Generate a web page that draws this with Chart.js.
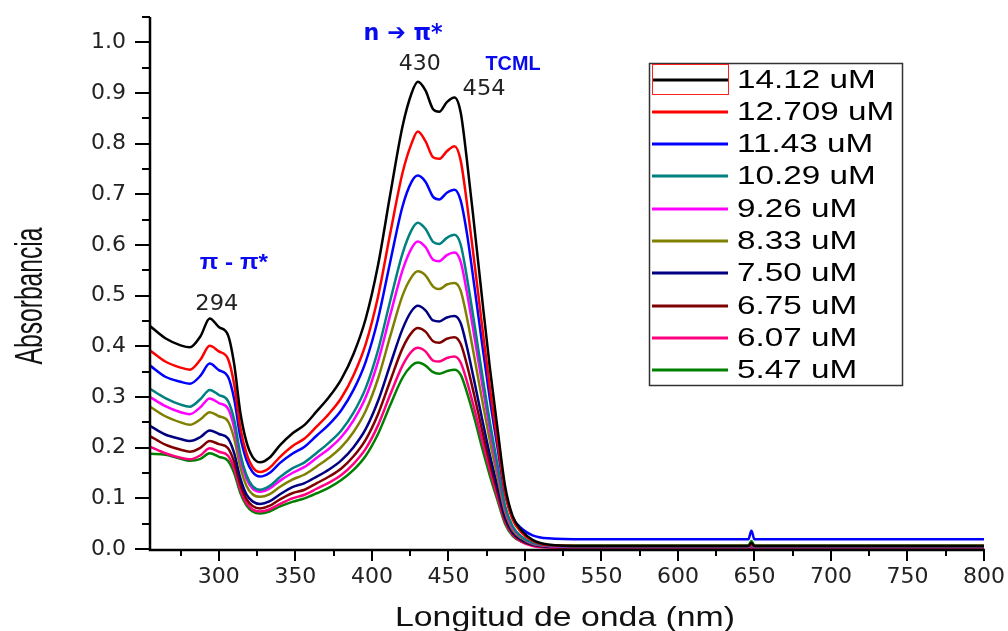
<!DOCTYPE html>
<html>
<head>
<meta charset="utf-8">
<script src="https://cdn.jsdelivr.net/npm/chart.js@4.4.1/dist/chart.umd.min.js"></script>
<style>
  html, body { margin: 0; padding: 0; background: #fff; }
  canvas { display: block; }
</style>
</head>
<body>
<canvas id="chart" width="1008" height="631"></canvas>
<script>
// Absorbance spectra (TCML)
const wavelengths = [255, 265, 275, 281, 288, 294, 300, 306, 310, 314, 318, 322, 327, 333, 340, 348, 356, 364, 372, 380, 388, 396, 404, 412, 420, 426, 430, 435, 440, 444, 449, 454, 458, 462, 467, 472, 477, 482, 487, 492, 498, 505, 515, 540, 646, 648, 650, 700, 800];

const abs1412 = [0.440, 0.416, 0.402, 0.398, 0.420, 0.455, 0.438, 0.422, 0.365, 0.270, 0.212, 0.182, 0.171, 0.180, 0.205, 0.228, 0.245, 0.272, 0.300, 0.335, 0.385, 0.455, 0.560, 0.700, 0.834, 0.900, 0.922, 0.905, 0.868, 0.863, 0.882, 0.891, 0.862, 0.770, 0.635, 0.495, 0.360, 0.240, 0.125, 0.065, 0.036, 0.018, 0.009, 0.006, 0.006, 0.012, 0.006, 0.006, 0.006];
const abs12709 = [0.392, 0.370, 0.358, 0.354, 0.374, 0.401, 0.390, 0.375, 0.325, 0.240, 0.189, 0.162, 0.152, 0.160, 0.182, 0.203, 0.218, 0.242, 0.267, 0.298, 0.343, 0.405, 0.498, 0.623, 0.742, 0.801, 0.824, 0.805, 0.773, 0.770, 0.785, 0.795, 0.767, 0.685, 0.565, 0.441, 0.320, 0.214, 0.111, 0.058, 0.032, 0.016, 0.008, 0.006, 0.006, 0.008, 0.006, 0.006, 0.006];
const abs1143 = [0.362, 0.340, 0.330, 0.326, 0.342, 0.366, 0.353, 0.340, 0.296, 0.222, 0.176, 0.152, 0.143, 0.150, 0.170, 0.188, 0.202, 0.224, 0.246, 0.274, 0.314, 0.370, 0.454, 0.567, 0.676, 0.725, 0.737, 0.725, 0.695, 0.690, 0.703, 0.709, 0.688, 0.625, 0.518, 0.406, 0.298, 0.202, 0.110, 0.062, 0.040, 0.027, 0.021, 0.019, 0.019, 0.036, 0.019, 0.019, 0.019];
const abs1029 = [0.316, 0.298, 0.285, 0.281, 0.296, 0.314, 0.304, 0.292, 0.255, 0.188, 0.146, 0.124, 0.117, 0.124, 0.142, 0.159, 0.171, 0.190, 0.210, 0.234, 0.269, 0.318, 0.392, 0.490, 0.583, 0.630, 0.644, 0.632, 0.606, 0.602, 0.614, 0.620, 0.601, 0.538, 0.444, 0.346, 0.252, 0.168, 0.086, 0.045, 0.024, 0.012, 0.007, 0.005, 0.005, 0.008, 0.005, 0.005, 0.005];
const abs926 = [0.300, 0.282, 0.270, 0.266, 0.280, 0.297, 0.288, 0.277, 0.240, 0.178, 0.139, 0.119, 0.113, 0.119, 0.135, 0.150, 0.162, 0.180, 0.198, 0.221, 0.254, 0.300, 0.370, 0.462, 0.550, 0.594, 0.607, 0.596, 0.571, 0.568, 0.580, 0.585, 0.567, 0.508, 0.419, 0.327, 0.238, 0.158, 0.081, 0.042, 0.023, 0.011, 0.006, 0.004, 0.004, 0.006, 0.004, 0.004, 0.004];
const abs833 = [0.281, 0.262, 0.250, 0.245, 0.256, 0.270, 0.262, 0.252, 0.218, 0.162, 0.125, 0.108, 0.103, 0.108, 0.123, 0.137, 0.147, 0.163, 0.180, 0.201, 0.231, 0.273, 0.336, 0.420, 0.500, 0.537, 0.548, 0.540, 0.518, 0.513, 0.522, 0.525, 0.510, 0.458, 0.378, 0.295, 0.215, 0.143, 0.074, 0.038, 0.021, 0.010, 0.006, 0.004, 0.004, 0.006, 0.004, 0.004, 0.004];
const abs750 = [0.243, 0.226, 0.217, 0.213, 0.221, 0.234, 0.227, 0.218, 0.189, 0.140, 0.108, 0.094, 0.089, 0.094, 0.108, 0.122, 0.130, 0.143, 0.157, 0.175, 0.201, 0.237, 0.292, 0.364, 0.434, 0.470, 0.480, 0.471, 0.451, 0.449, 0.457, 0.460, 0.446, 0.400, 0.330, 0.257, 0.187, 0.124, 0.064, 0.033, 0.018, 0.009, 0.005, 0.004, 0.004, 0.005, 0.004, 0.004, 0.004];
const abs675 = [0.223, 0.206, 0.196, 0.192, 0.200, 0.213, 0.207, 0.199, 0.172, 0.128, 0.099, 0.085, 0.080, 0.085, 0.098, 0.110, 0.117, 0.130, 0.143, 0.159, 0.183, 0.216, 0.266, 0.332, 0.396, 0.427, 0.436, 0.429, 0.410, 0.407, 0.415, 0.418, 0.405, 0.365, 0.302, 0.235, 0.171, 0.114, 0.059, 0.031, 0.016, 0.008, 0.004, 0.003, 0.003, 0.004, 0.003, 0.003, 0.003];
const abs607 = [0.202, 0.189, 0.180, 0.177, 0.185, 0.199, 0.192, 0.184, 0.159, 0.118, 0.091, 0.078, 0.074, 0.078, 0.089, 0.100, 0.107, 0.119, 0.131, 0.146, 0.168, 0.198, 0.244, 0.305, 0.362, 0.390, 0.397, 0.390, 0.372, 0.370, 0.377, 0.380, 0.368, 0.332, 0.276, 0.215, 0.157, 0.104, 0.054, 0.028, 0.014, 0.006, 0.003, 0.002, 0.002, 0.003, 0.002, 0.002, 0.002];
const abs547 = [0.188, 0.186, 0.178, 0.174, 0.178, 0.189, 0.182, 0.174, 0.150, 0.111, 0.086, 0.074, 0.070, 0.074, 0.084, 0.093, 0.100, 0.110, 0.121, 0.136, 0.156, 0.184, 0.227, 0.284, 0.338, 0.362, 0.368, 0.362, 0.349, 0.346, 0.351, 0.354, 0.344, 0.310, 0.258, 0.200, 0.146, 0.097, 0.050, 0.026, 0.014, 0.008, 0.007, 0.007, 0.007, 0.016, 0.007, 0.007, 0.007];

const seriesLabels = ['14.12 uM', '12.709 uM', '11.43 uM', '10.29 uM', '9.26 uM', '8.33 uM', '7.50 uM', '6.75 uM', '6.07 uM', '5.47 uM'];
const seriesValues = [abs1412, abs12709, abs1143, abs1029, abs926, abs833, abs750, abs675, abs607, abs547];
const seriesColors = ['#000000', '#ff0000', '#0000ff', '#008080', '#ff00ff', '#808000', '#000080', '#800000', '#ff0080', '#008000'];

// draw text squeezed/stretched to match the original's wide lettering
function drawScaled(ctx, text, x, y, opt) {
    ctx.save();
    ctx.font = opt.font;
    ctx.fillStyle = opt.color || '#000';
    ctx.textAlign = opt.align || 'center';
    ctx.textBaseline = opt.baseline || 'middle';
    const w = ctx.measureText(text).width;
    const sx = opt.width ? opt.width / w : (opt.sx || 1);
    ctx.translate(x, y);
    if (opt.rotate) ctx.rotate(opt.rotate);
    ctx.scale(sx, opt.sy || 1);
    ctx.fillText(text, 0, 0);
    ctx.restore();
}

// axis lines + major/minor tick marks
const axesPlugin = {
    id: 'axesPlugin',
    afterDraw(chart) {
        const { ctx, chartArea: a, scales: { x, y } } = chart;
        ctx.save();
        ctx.strokeStyle = '#000';
        ctx.lineWidth = 2.5;
        ctx.beginPath();
        ctx.moveTo(a.left, a.top);
        ctx.lineTo(a.left, a.bottom + 1);
        ctx.lineTo(x.getPixelForValue(800) + 1, a.bottom + 1);
        ctx.stroke();
        ctx.lineWidth = 2;
        ctx.beginPath();
        for (let i = 0; i <= 21; i++) {
            const py = Math.round(y.getPixelForValue(i * 0.05));
            const len = i % 2 === 0 ? 15 : 8;
            ctx.moveTo(a.left, py);
            ctx.lineTo(a.left - len, py);
        }
        for (let v = 275; v <= 800; v += 25) {
            const px = Math.round(x.getPixelForValue(v));
            const len = v % 50 === 0 ? 11 : 6;
            ctx.moveTo(px, a.bottom + 1);
            ctx.lineTo(px, a.bottom + 1 + len);
        }
        ctx.stroke();
        ctx.restore();

        // axis titles
        drawScaled(ctx, 'Longitud de onda (nm)', 565, 626, { font: '28px "Liberation Sans", Arial', color: '#111', width: 340, baseline: 'alphabetic' });
        drawScaled(ctx, 'Absorbancia', 42, 296, { font: '30px "Liberation Sans Narrow", "Liberation Sans", Arial', color: '#111', width: 137, sy: 1.3, rotate: -Math.PI / 2, baseline: 'alphabetic' });
    }
};

// peak labels
const peakLabelsPlugin = {
    id: 'peakLabels',
    afterDatasetsDraw(chart) {
        const { ctx, scales: { x, y } } = chart;
        const blue = '#0a0aee';
        const num = '22px "DejaVu Sans"';
        drawScaled(ctx, 'π - π*', x.getPixelForValue(309.8), y.getPixelForValue(0.565), { font: 'bold 22px "Liberation Sans", Arial', color: blue, width: 68 });
        drawScaled(ctx, '294', x.getPixelForValue(298.7), y.getPixelForValue(0.483), { font: num, color: '#222', width: 43 });
        drawScaled(ctx, 'n ➔ π*', x.getPixelForValue(420.4), y.getPixelForValue(1.016), { font: 'bold 23px "DejaVu Sans"', color: blue, width: 79 });
        drawScaled(ctx, '430', x.getPixelForValue(431.2), y.getPixelForValue(0.956), { font: num, color: '#222', width: 42 });
        drawScaled(ctx, '454', x.getPixelForValue(473.3), y.getPixelForValue(0.907), { font: num, color: '#222', width: 43 });
        drawScaled(ctx, 'TCML', x.getPixelForValue(492.2), y.getPixelForValue(0.957), { font: 'bold 20px "Liberation Sans", Arial', color: blue, width: 55 });
    }
};

// boxed legend inside the plot, like the Origin export
const boxLegendPlugin = {
    id: 'boxLegend',
    afterDraw(chart) {
        const { ctx } = chart;
        const left = 649, top = 63, w = 253, h = 322;
        ctx.save();
        ctx.fillStyle = '#fff';
        ctx.fillRect(left, top, w, h);
        ctx.strokeStyle = '#333';
        ctx.lineWidth = 1.5;
        ctx.strokeRect(left + 0.5, top + 0.5, w, h);
        chart.data.datasets.forEach((ds, i) => {
            const cy = Math.round(79.5 + i * 32.3);
            ctx.strokeStyle = ds.borderColor;
            ctx.lineWidth = 3;
            ctx.beginPath();
            ctx.moveTo(652, cy);
            ctx.lineTo(728, cy);
            ctx.stroke();
            drawScaled(ctx, ds.label, 737, cy + 1, { font: '25px "Liberation Sans", Arial', color: '#000', sx: 1.33, align: 'left' });
        });
        // selection frame around the first sample
        ctx.strokeStyle = '#ff2020';
        ctx.lineWidth = 1;
        ctx.strokeRect(652.5, 64.5, 76, 30);
        ctx.restore();
    }
};

const datasets = seriesValues.map((vals, i) => ({
    label: seriesLabels[i],
    data: wavelengths.map((w, j) => ({ x: w, y: vals[j] })),
    borderColor: seriesColors[i],
    borderWidth: 2.5,
    pointRadius: 0,
    fill: false,
    cubicInterpolationMode: 'monotone'
}));

const tickFont = { family: 'DejaVu Sans', size: 22 };

new Chart(document.getElementById('chart').getContext('2d'), {
    type: 'line',
    data: { datasets },
    options: {
        responsive: false,
        animation: false,
        layout: { padding: { left: 0, right: 24, top: 17, bottom: 0 } },
        plugins: { legend: { display: false }, tooltip: { enabled: false } },
        scales: {
            x: {
                type: 'linear',
                min: 255,
                max: 800,
                afterFit: s => { s.height = 82; s.paddingLeft = 0; s.paddingRight = 0; },
                grid: { display: false, drawTicks: false },
                border: { display: false },
                ticks: {
                    stepSize: 25,
                    autoSkip: false,
                    maxRotation: 0,
                    padding: 15,
                    color: '#222',
                    font: tickFont,
                    callback: v => (v % 50 === 0 ? String(v) : '')
                }
            },
            y: {
                min: 0,
                max: 1.05,
                afterFit: s => { s.width = 150; s.paddingTop = 0; s.paddingBottom = 0; },
                grid: { display: false, drawTicks: false },
                border: { display: false },
                ticks: {
                    stepSize: 0.05,
                    padding: 24,
                    color: '#222',
                    font: tickFont,
                    callback: v => (Math.round(v * 100) % 10 === 0 ? v.toFixed(1) : '')
                }
            }
        }
    },
    plugins: [axesPlugin, peakLabelsPlugin, boxLegendPlugin]
});
</script>
</body>
</html>
